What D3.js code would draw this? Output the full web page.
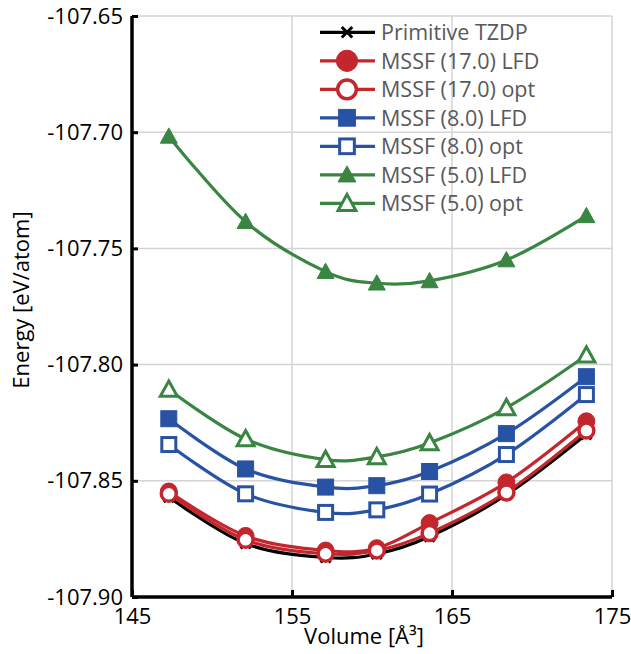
<!DOCTYPE html>
<html><head><meta charset="utf-8">
<script src="https://cdn.jsdelivr.net/npm/d3@7"></script>
<style>
html,body{margin:0;padding:0;background:#fff;}
svg{display:block;}
</style></head>
<body>
<svg id="chart" width="631" height="654"></svg>
<script>
// ---- data ----
const volumes = [147.3, 152.1, 157.1, 160.3, 163.6, 168.4, 173.4];
const tzdp      = [-107.857, -107.877, -107.883, -107.8815, -107.874, -107.856, -107.830];
const mssf17LFD = [-107.8546, -107.8737, -107.8800, -107.8790, -107.8682, -107.8507, -107.8244];
const mssf17opt = [-107.8556, -107.8754, -107.8814, -107.8800, -107.8725, -107.8550, -107.8284];
const mssf8LFD  = [-107.8233, -107.8449, -107.8527, -107.8521, -107.8460, -107.8297, -107.8052];
const mssf8opt  = [-107.8344, -107.8556, -107.8636, -107.8625, -107.8557, -107.8387, -107.8129];
const mssf5LFD  = [-107.7018, -107.7385, -107.7600, -107.7650, -107.7640, -107.7550, -107.7360];
const mssf5opt  = [-107.8107, -107.8320, -107.8409, -107.8397, -107.8337, -107.8186, -107.7960];
const seriesNames = ["Primitive TZDP","MSSF (17.0) LFD","MSSF (17.0) opt","MSSF (8.0) LFD","MSSF (8.0) opt","MSSF (5.0) LFD","MSSF (5.0) opt"];
const xTicks = [145, 155, 165, 175];
const xTickLabels = ["145","155","165","175"];
const yTicks = [-107.90, -107.85, -107.80, -107.75, -107.70, -107.65];
const yTickLabels = ["-107.90","-107.85","-107.80","-107.75","-107.70","-107.65"];
const xTitle = "Volume [Å³]";
const yTitle = "Energy [eV/atom]";

// ---- styles ----
const RED = "#C4262E", BLUE = "#2852A3", GREEN = "#3A8541";
const series = [
  {name: seriesNames[0], values: tzdp,      color: "#000000", marker: "x"},
  {name: seriesNames[1], values: mssf17LFD, color: RED,   marker: "circle", filled: true},
  {name: seriesNames[2], values: mssf17opt, color: RED,   marker: "circle", filled: false},
  {name: seriesNames[3], values: mssf8LFD,  color: BLUE,  marker: "square", filled: true},
  {name: seriesNames[4], values: mssf8opt,  color: BLUE,  marker: "square", filled: false},
  {name: seriesNames[5], values: mssf5LFD,  color: GREEN, marker: "triangle", filled: true},
  {name: seriesNames[6], values: mssf5opt,  color: GREEN, marker: "triangle", filled: false}
];

const svg = d3.select("#chart");
const L = 132, R = 612, T = 16, B = 597;
const x = d3.scaleLinear().domain([145, 175]).range([L, R]);
const y = d3.scaleLinear().domain([-107.90, -107.65]).range([B, T]);
const FONT = "'Open Sans', 'Liberation Sans', sans-serif";

// gridlines
const grid = svg.append("g");
grid.selectAll("line.h").data(yTicks.slice(1)).join("line")
  .attr("x1", L).attr("x2", R).attr("y1", d => y(d)).attr("y2", d => y(d))
  .attr("stroke", "#D4D4D4").attr("stroke-width", 1.5);
grid.selectAll("line.v").data(xTicks.slice(1)).join("line")
  .attr("x1", d => x(d)).attr("x2", d => x(d)).attr("y1", T).attr("y2", B)
  .attr("stroke", "#D4D4D4").attr("stroke-width", 1.5);

// axes
const yAxis = d3.axisLeft(y).tickValues(yTicks).tickSize(-6).tickPadding(9)
  .tickFormat((d, i) => yTickLabels[i]);
const gy = svg.append("g").attr("transform", `translate(${L},0)`).call(yAxis);
const xAxis = d3.axisBottom(x).tickValues(xTicks).tickSize(-7).tickPadding(11)
  .tickFormat((d, i) => xTickLabels[i]);
const gx = svg.append("g").attr("transform", `translate(0,${B})`).call(xAxis);
[gx, gy].forEach(g => {
  g.select(".domain").attr("stroke", "#000").attr("stroke-width", 3.5);
  g.selectAll(".tick line").attr("stroke", "#000").attr("stroke-width", 3);
  g.selectAll(".tick text").attr("fill", "#000").style("font-family", FONT).style("font-size", "22px");
});
gy.select(".domain").attr("d", `M0,${T}V${B}`);
gx.select(".domain").attr("d", `M${L},0H${R}`);

// titles
svg.append("text").attr("x", 364).attr("y", 644).attr("text-anchor", "middle")
  .style("font-family", FONT).style("font-size", "22px").attr("fill", "#000").text(xTitle);
svg.append("text").attr("transform", `translate(29,300) rotate(-90)`).attr("text-anchor", "middle")
  .style("font-family", FONT).style("font-size", "22px").attr("fill", "#000").text(yTitle);

// markers
function drawMarker(g, s, cx, cy, scale) {
  const k = scale || 1;
  if (s.marker === "x") {
    const a = 5 * k;
    g.append("path").attr("d", `M${cx - a},${cy - a}L${cx + a},${cy + a}M${cx - a},${cy + a}L${cx + a},${cy - a}`)
      .attr("stroke", s.color).attr("stroke-width", 3).attr("fill", "none");
  } else if (s.marker === "circle") {
    g.append("circle").attr("cx", cx).attr("cy", cy).attr("r", (s.filled ? 8.5 : 7.5) * k)
      .attr("fill", s.filled ? s.color : "#fff").attr("stroke", s.color).attr("stroke-width", s.filled ? 1 : 3.5);
  } else if (s.marker === "square") {
    const a = (s.filled ? 8 : 7) * k;
    g.append("rect").attr("x", cx - a).attr("y", cy - a).attr("width", 2 * a).attr("height", 2 * a)
      .attr("fill", s.filled ? s.color : "#fff").attr("stroke", s.color).attr("stroke-width", s.filled ? 1 : 3);
  } else if (s.marker === "triangle") {
    const a = 8.5 * k;
    g.append("path").attr("d", `M${cx},${cy - a}L${cx + a},${cy + a * 0.8}L${cx - a},${cy + a * 0.8}Z`)
      .attr("fill", s.filled ? s.color : "#fff").attr("stroke", s.color).attr("stroke-width", s.filled ? 1 : 3)
      .attr("stroke-linejoin", "miter");
  }
}

// series
const line = d3.line().x(d => x(d[0])).y(d => y(d[1])).curve(d3.curveCatmullRom.alpha(0));
const plot = svg.append("g");
series.forEach(s => {
  const pts = volumes.map((v, i) => [v, s.values[i]]);
  const g = plot.append("g");
  g.append("path").attr("d", line(pts)).attr("fill", "none").attr("stroke", s.color)
    .attr("stroke-width", 3.2).attr("stroke-linejoin", "round");
  pts.forEach(p => drawMarker(g, s, x(p[0]), y(p[1])));
});

// legend
const leg = svg.append("g");
const legY0 = 32.3, legDY = 28.5;
series.forEach((s, i) => {
  const yy = legY0 + i * legDY;
  const g = leg.append("g");
  g.append("line").attr("x1", 320).attr("x2", 375).attr("y1", yy).attr("y2", yy)
    .attr("stroke", s.color).attr("stroke-width", 3.2);
  drawMarker(g, s, 347, yy, s.marker === "circle" ? 1.25 : 1.05);
  g.append("text").attr("x", 381).attr("y", yy).attr("dy", "0.36em")
    .style("font-family", FONT).style("font-size", "21.5px").attr("fill", "#595959").text(s.name);
});
</script>
</body></html>
